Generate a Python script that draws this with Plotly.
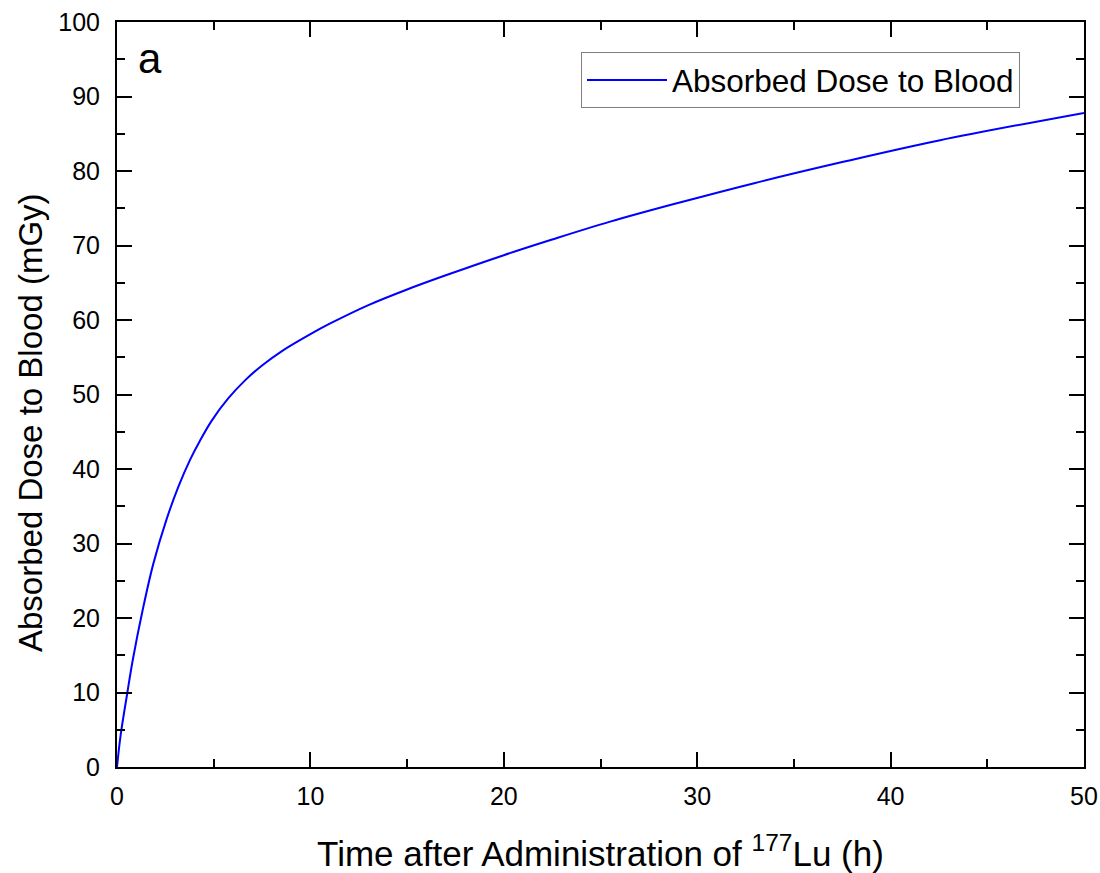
import plotly.graph_objects as go

time_h = [0, 0.19, 0.53, 0.81, 1.33, 1.88, 2.57, 3.17, 3.77, 4.29, 4.9, 5.76, 6.62,
          7.5, 8.51, 10, 11, 13, 15, 17, 20, 22.5, 25.5, 29, 33, 37.5, 42.5, 50]
dose_mgy = [0, 4.3, 9.9, 14.3, 21.1, 27.3, 33.3, 37.6, 41.2, 43.8, 46.5, 49.5, 51.9,
            53.9, 55.8, 58.1, 59.5, 62.0, 64.1, 66.0, 68.7, 70.8, 73.2, 75.7, 78.4,
            81.2, 84.1, 87.8]

FONT = "Liberation Sans, Arial, sans-serif"

fig = go.Figure()
fig.add_trace(go.Scatter(
    x=time_h, y=dose_mgy, mode="lines", name="Absorbed Dose to Blood",
    line=dict(color="#0000FF", width=2, shape="spline", smoothing=1.0),
))

axis_common = dict(
    showline=True, linecolor="black", linewidth=2, mirror="allticks",
    ticks="inside", ticklen=15, tickwidth=2, tickcolor="black",
    showgrid=False, zeroline=False, automargin=False,
    tickfont=dict(family=FONT, size=25, color="black"),
)

fig.update_xaxes(
    range=[0, 50], dtick=10, tick0=0,
    minor=dict(dtick=5, ticks="inside", ticklen=8, tickwidth=2, tickcolor="black", showgrid=False),
    ticklabelstandoff=6,
    title=dict(text="Time after Administration of <sup>177</sup>Lu (h)",
               font=dict(family=FONT, size=35, color="black"), standoff=32),
    **axis_common,
)
fig.update_yaxes(
    range=[0, 100], dtick=10, tick0=0,
    minor=dict(dtick=5, ticks="inside", ticklen=8, tickwidth=2, tickcolor="black", showgrid=False),
    ticklabelstandoff=10,
    **axis_common,
)

fig.add_annotation(
    text="Absorbed Dose to Blood (mGy)", xref="paper", yref="paper",
    x=(30 - 117) / 967, y=(767 - 423) / 745, xanchor="center", yanchor="middle",
    textangle=-90, showarrow=False,
    font=dict(family=FONT, size=33, color="black"),
)

fig.add_annotation(
    text="a", xref="paper", yref="paper", x=0.02, y=0.985,
    xanchor="left", yanchor="top", showarrow=False,
    font=dict(family=FONT, size=42, color="black"),
)

fig.update_layout(
    width=1100, height=873,
    margin=dict(l=117, r=16, t=22, b=106),
    paper_bgcolor="white", plot_bgcolor="white",
    showlegend=True,
    legend=dict(
        x=(581 - 117) / 967, y=(767 - 52) / 745, xanchor="left", yanchor="top",
        bordercolor="#808080", borderwidth=1, bgcolor="white",
        font=dict(family=FONT, size=31.5, color="black"),
        itemwidth=80, tracegroupgap=0,
    ),
)

fig.write_html("out.html", config={"displayModeBar": False},
               post_script="document.body.style.margin='0';")
